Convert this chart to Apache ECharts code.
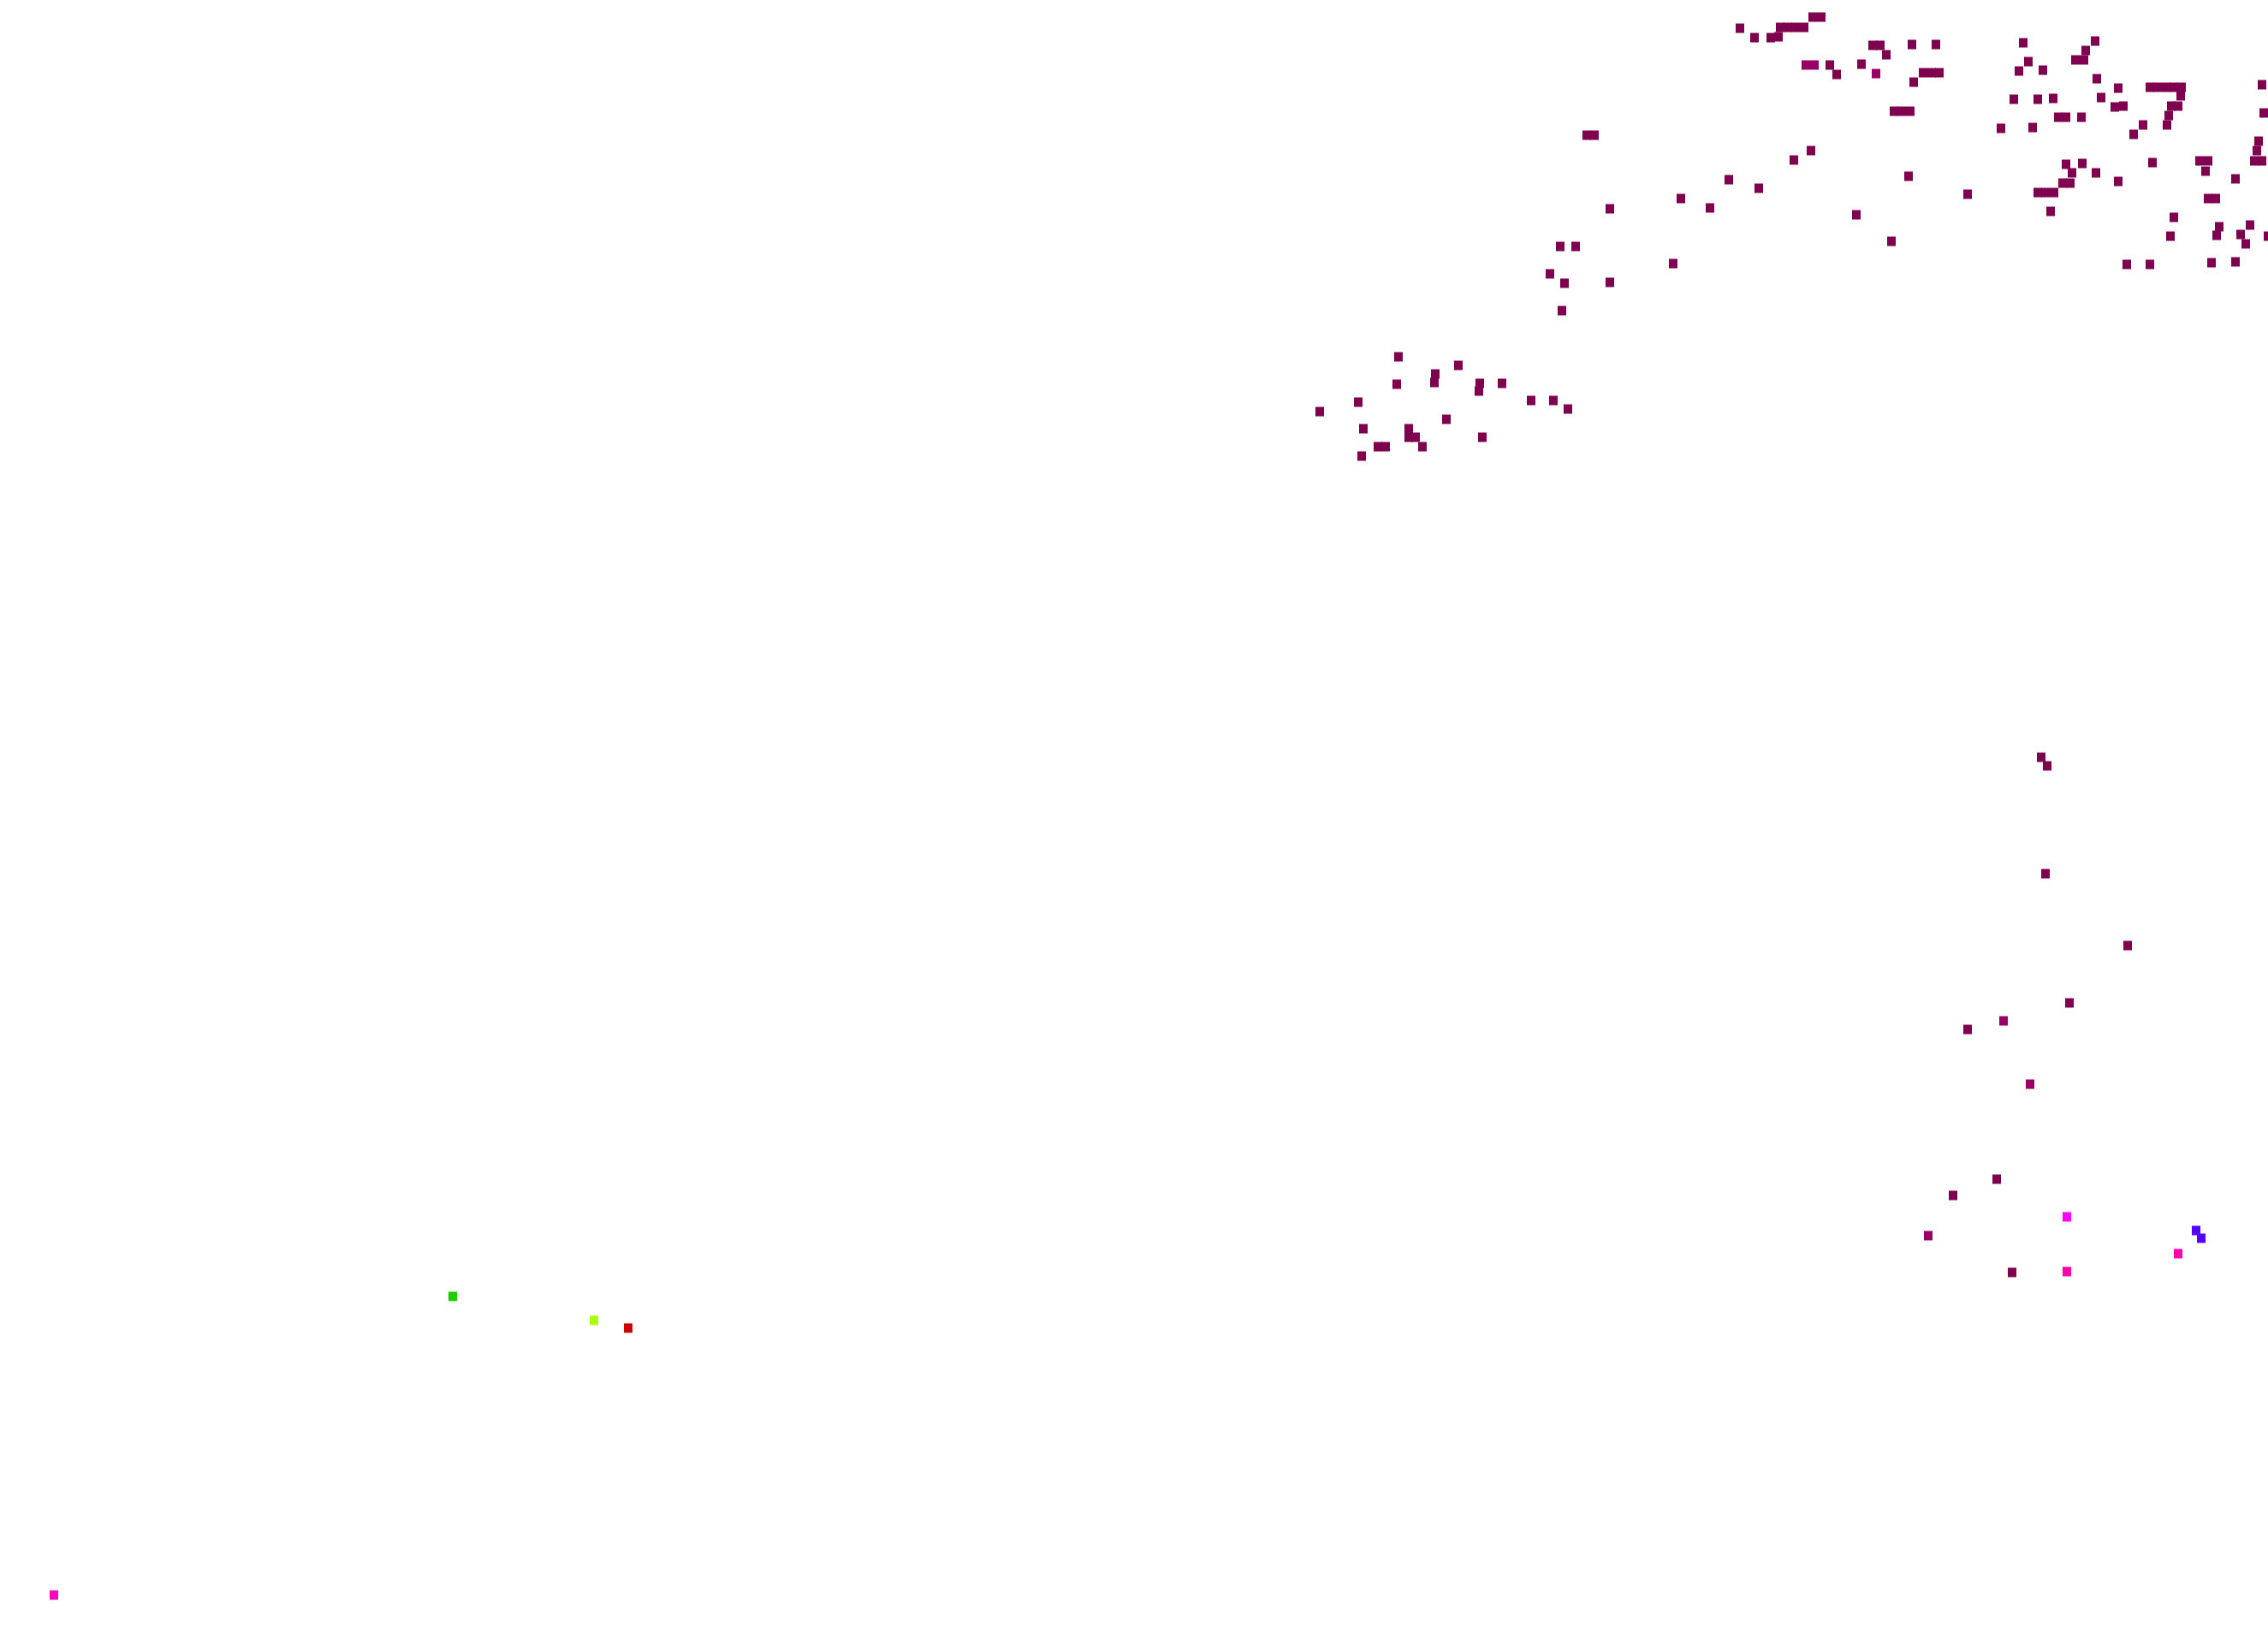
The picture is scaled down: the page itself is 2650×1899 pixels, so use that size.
<!DOCTYPE html>
<html>
<head>
<meta charset="utf-8">
<script src="https://cdn.jsdelivr.net/npm/echarts@6/dist/echarts.min.js"></script>
<style>html,body{margin:0;padding:0;background:#fff;}#c{width:2650px;height:1899px;}</style>
</head>
<body>
<div id="c"></div>
<script>
// Point positions in the chart's (hidden) data units: x across, y down.
const darkPoints = [
  [1634,417],[1704,427],[1677,437],[1676,447],[1632,449],[1729,448],[1728,457],[1755,448],[1587,470],[1789,468],[1815,468],[1832,478],[1542,481],[1690,490],[1593,501],[1646,501],[1646,511],[1654,511],[1732,511],[1610,522],[1619,522],[1662,522],[1591,533],
  [2118,20],[2128,20],[2033,33],[2080,32],[2089,32],[2098,32],[2108,32],[2050,44],[2069,44],[2078,43],[2188,53],[2197,53],[2204,64],[2138,76],[2146,87],[2175,75],[1854,158],[1863,158],[2116,176],[2096,187],[2020,210],[2055,220],[1964,232],[1998,243],[1881,244],[2169,251],[1823,288],[1841,288],[1955,308],[1811,320],[1828,331],[1881,330],[1825,363],
  [2234,52],[2262,52],[2247,85],[2257,85],[2266,85],[2236,96],[2213,130],[2222,130],[2232,130],[2210,282],[2230,206],[2299,227],[2364,50],[2370,72],[2359,83],[2387,82],[2448,48],[2437,59],[2425,70],[2435,70],[2450,92],[2475,103],[2353,116],[2381,116],[2399,115],[2455,114],[2471,125],[2481,124],[2405,137],[2414,137],[2432,137],[2338,150],[2375,149],[2504,146],[2493,157],
  [2512,102],[2521,102],[2531,102],[2540,102],[2549,102],[2548,112],[2537,124],[2545,124],[2534,135],[2532,146],
  [2643,99],[2645,132],[2639,165],[2637,176],[2634,188],[2643,188],[2515,190],[2570,188],[2580,188],[2577,200],[2414,192],[2433,191],[2421,202],[2410,214],[2419,214],[2449,202],[2475,212],[2612,209],[2381,225],[2390,225],[2400,225],[2396,247],[2580,232],[2589,232],[2540,254],[2536,276],[2593,265],[2590,275],[2629,263],[2618,274],[2624,285],[2650,276],[2485,309],[2512,309],[2584,307],[2612,306],
  [2385,885],[2392,895],[2390,1021],[2486,1105],[2418,1172],[2299,1203],[2333,1378],[2282,1397],[2351,1487]
];
const plumPoints = [[2110,76],[2120,76],[2192,86],[2341,1193],[2372,1267],[2253,1444]];
const magentaPoints = [[2415,1422]];
const violetPoints = [[2566,1438],[2572,1447]];
const rosePoints = [[2545,1465],[2415,1486]];
const greenPoints = [[529,1515]];
const limePoints = [[694,1543]];
const redPoints = [[734,1552]];
const pinkPoints = [[63,1864]];

const groups = [
  ['dark', darkPoints, '#7f004f'],
  ['plum', plumPoints, '#990066'],
  ['magenta', magentaPoints, '#ff00ff'],
  ['violet', violetPoints, '#5500ff'],
  ['rose', rosePoints, '#ff00aa'],
  ['green', greenPoints, '#22cc00'],
  ['lime', limePoints, '#aaff00'],
  ['red', redPoints, '#cc0000'],
  ['pink', pinkPoints, '#ff00bb']
];

const chart = echarts.init(document.getElementById('c'), null, {renderer: 'canvas'});
chart.setOption({
  animation: false,
  backgroundColor: '#ffffff',
  grid: {left: 0, right: 0, top: 0, bottom: 0, containLabel: false},
  xAxis: {type: 'value', min: 0, max: 2650, show: false},
  yAxis: {type: 'value', min: 0, max: 1899, inverse: true, show: false},
  series: groups.map(g => ({
    name: g[0],
    type: 'scatter',
    symbol: 'rect',
    symbolSize: [10, 11],
    data: g[1],
    itemStyle: {color: g[2], opacity: 1},
    emphasis: {disabled: true}
  }))
});
</script>
</body>
</html>
